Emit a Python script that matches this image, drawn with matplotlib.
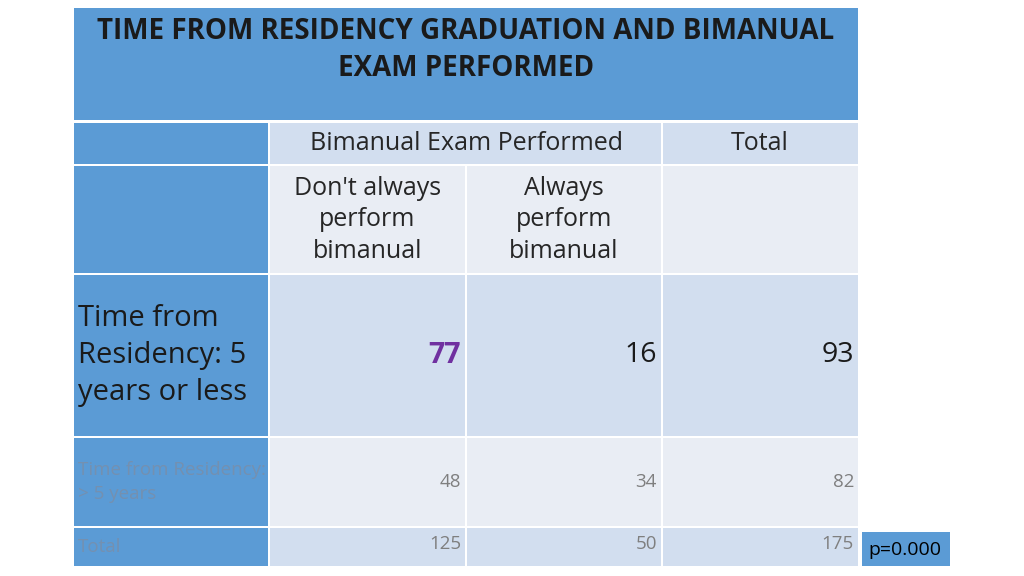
import matplotlib
matplotlib.use("Agg")
import matplotlib.pyplot as plt
from matplotlib.patches import Rectangle

plt.rcParams["font.family"] = "Open Sans"

TITLE = "TIME FROM RESIDENCY GRADUATION AND BIMANUAL\nEXAM PERFORMED"
COL_GROUP = "Bimanual Exam Performed"
COL_TOTAL = "Total"
COL_LABELS = ["Don't always\nperform\nbimanual", "Always\nperform\nbimanual"]
ROW_LABELS = ["Time from\nResidency: 5\nyears or less", "Time from Residency:\n> 5 years", "Total"]
DONT_ALWAYS = [77, 48, 125]
ALWAYS = [16, 34, 50]
TOTALS = [93, 82, 175]
P_TEXT = "p=0.000"

BLUE = "#5B9BD5"
LIGHT = "#D2DEEF"
LIGHTER = "#E9EDF4"
FAINT = "#7490B0"

fig = plt.figure(figsize=(10.24, 5.76), dpi=100)
ax = fig.add_axes([0, 0, 1, 1])
ax.set_xlim(0, 1024)
ax.set_ylim(576, 0)
ax.axis("off")

def cell(x0, y0, x1, y1, color):
    ax.add_patch(Rectangle((x0, y0), x1 - x0, y1 - y0, facecolor=color, edgecolor="none"))

cols = [(74, 268), (270, 465), (467, 661), (663, 858)]
rows = [(123, 164), (166, 273), (275, 436), (438, 526), (528, 566)]

# title
cell(74, 8, 858, 120, BLUE)
ax.text(466, 50, TITLE, ha="center", va="center", fontsize=20, fontweight="bold",
        color="#1A1A1A", linespacing=1.4)

# header rows
cell(cols[0][0], rows[0][0], cols[0][1], rows[0][1], BLUE)
cell(cols[1][0], rows[0][0], cols[2][1], rows[0][1], LIGHT)
cell(cols[3][0], rows[0][0], cols[3][1], rows[0][1], LIGHT)
ax.text(466, 144, COL_GROUP, ha="center", va="center", fontsize=18, color="#262626")
ax.text(760, 144, COL_TOTAL, ha="center", va="center", fontsize=18, color="#262626")

cell(cols[0][0], rows[1][0], cols[0][1], rows[1][1], BLUE)
for c in cols[1:]:
    cell(c[0], rows[1][0], c[1], rows[1][1], LIGHTER)
for c, lab in zip(cols[1:3], COL_LABELS):
    ax.text((c[0] + c[1]) / 2, 220, lab, ha="center", va="center", fontsize=18,
            color="#262626", linespacing=1.36)

# data rows
row_fill = [LIGHT, LIGHTER, LIGHT]
for i, (r, lab) in enumerate(zip(rows[2:], ROW_LABELS)):
    cell(cols[0][0], r[0], cols[0][1], r[1], BLUE)
    for c in cols[1:]:
        cell(c[0], r[0], c[1], r[1], row_fill[i])
    ym = (r[0] + r[1]) / 2
    vals = [DONT_ALWAYS[i], ALWAYS[i], TOTALS[i]]
    if i == 0:
        ax.text(78, ym, lab, ha="left", va="center", fontsize=21, color="#1A1A1A", linespacing=1.37)
        for j, (c, v) in enumerate(zip(cols[1:], vals)):
            ax.text(c[1] - 4, ym, str(v), ha="right", va="center", fontsize=20.5,
                    color="#7030A0" if j == 0 else "#1A1A1A",
                    fontweight="bold" if j == 0 else "normal")
    else:
        ax.text(78, ym, lab, ha="left", va="center", fontsize=13.5,
                color=FAINT, linespacing=1.38)
        for c, v in zip(cols[1:], vals):
            ax.text(c[1] - 4, ym - (0 if i == 1 else 3), str(v), ha="right", va="center",
                    fontsize=13.5, color="#7F7F7F")

# p-value box
cell(862, 532, 950, 566, BLUE)
ax.text(905, 550, P_TEXT, ha="center", va="center", fontsize=14, color="black")

fig.savefig("out.png", dpi=100)
